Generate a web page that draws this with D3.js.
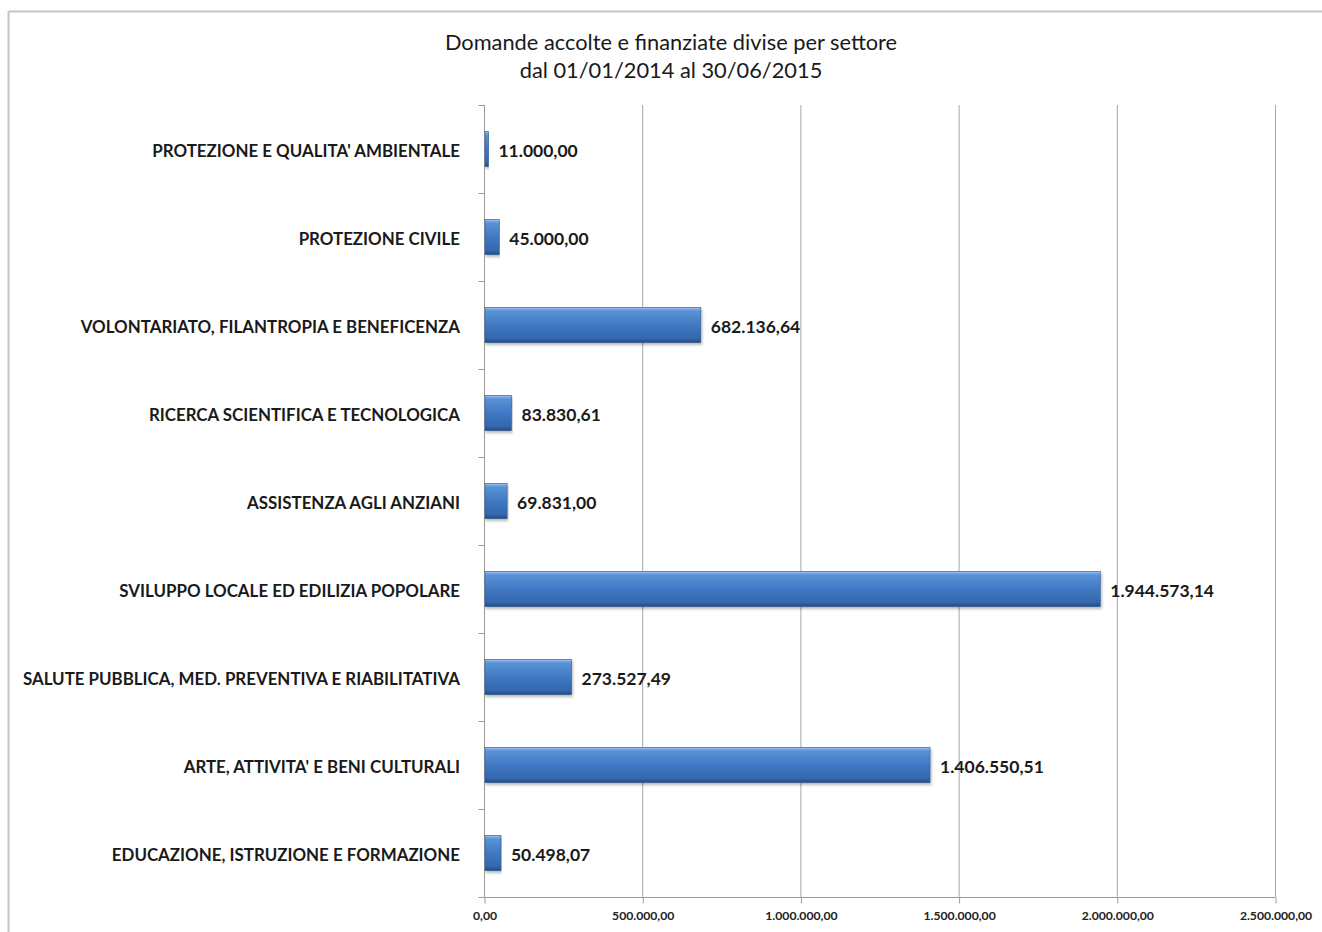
<!DOCTYPE html>
<html>
<head>
<meta charset="utf-8">
<script src="https://cdn.jsdelivr.net/npm/d3@7"></script>
<style>
  html, body { margin: 0; padding: 0; background: #fff; }
  svg { display: block; }
</style>
</head>
<body>
<svg id="chart" width="1322" height="932"></svg>
<script>
const categories = [
  "PROTEZIONE E QUALITA' AMBIENTALE",
  "PROTEZIONE CIVILE",
  "VOLONTARIATO, FILANTROPIA E BENEFICENZA",
  "RICERCA SCIENTIFICA E TECNOLOGICA",
  "ASSISTENZA AGLI ANZIANI",
  "SVILUPPO LOCALE ED EDILIZIA POPOLARE",
  "SALUTE PUBBLICA, MED. PREVENTIVA E RIABILITATIVA",
  "ARTE, ATTIVITA' E BENI CULTURALI",
  "EDUCAZIONE, ISTRUZIONE E FORMAZIONE"
];
const values = [11000.00, 45000.00, 682136.64, 83830.61, 69831.00, 1944573.14, 273527.49, 1406550.51, 50498.07];
const xTicks = [0, 500000, 1000000, 1500000, 2000000, 2500000];
const titleLines = ["Domande accolte e finanziate divise per settore", "dal 01/01/2014 al 30/06/2015"];

const itLocale = d3.formatLocale({decimal: ",", thousands: ".", grouping: [3], currency: ["€", ""]});
const fmt = itLocale.format(",.2f");

const svg = d3.select("#chart");
const W = 1322, H = 932;
const m = {left: 484, top: 105};

const x = d3.scaleLinear().domain([0, 2500000]).range([m.left, m.left + 791]);
const y = d3.scaleBand().domain(categories).range([m.top, m.top + 792]).paddingInner(0.6).paddingOuter(0.3);
const yOuter = d3.scaleBand().domain(categories).range([m.top, m.top + 792]);

// defs
const defs = svg.append("defs");
const grad = defs.append("linearGradient").attr("id", "barGrad").attr("x1", 0).attr("y1", 0).attr("x2", 0).attr("y2", 1);
grad.append("stop").attr("offset", "0%").attr("stop-color", "#9cc3ef");
grad.append("stop").attr("offset", "10%").attr("stop-color", "#5b93d6");
grad.append("stop").attr("offset", "50%").attr("stop-color", "#3f79c3");
grad.append("stop").attr("offset", "88%").attr("stop-color", "#3467ac");
grad.append("stop").attr("offset", "100%").attr("stop-color", "#25497c");
const shadow = defs.append("filter").attr("id", "shadow").attr("x", "-5%").attr("y", "-20%").attr("width", "110%").attr("height", "160%");
shadow.append("feDropShadow").attr("dx", 1).attr("dy", 2).attr("stdDeviation", 1.5).attr("flood-color", "#000").attr("flood-opacity", 0.3);

// frame border
svg.append("line").attr("x1", 9).attr("x2", W).attr("y1", 11.5).attr("y2", 11.5).attr("stroke", "#c4c4c4").attr("stroke-width", 2);
svg.append("line").attr("x1", 8.5).attr("x2", 8.5).attr("y1", 11).attr("y2", H).attr("stroke", "#c4c4c4").attr("stroke-width", 2);

// title
svg.append("g").selectAll("text").data(titleLines).join("text")
  .attr("x", 671).attr("y", (d, i) => 50 + i * 28)
  .attr("text-anchor", "middle")
  .attr("font-family", "Lato, 'Open Sans', sans-serif")
  .attr("font-size", 21.8)
  .attr("fill", "#1a1a1a")
  .text(d => d);

// gridlines
svg.append("g").selectAll("line").data(xTicks.slice(1)).join("line")
  .attr("x1", d => x(d) + 0.5).attr("x2", d => x(d) + 0.5)
  .attr("y1", m.top).attr("y2", m.top + 792)
  .attr("stroke", "#a6a6a6").attr("stroke-width", 1);

// x axis
const xAxis = svg.append("g").attr("transform", `translate(0.5,${m.top + 792 + 0.5})`)
  .call(d3.axisBottom(x).tickValues(xTicks).tickFormat(fmt).tickSize(6).tickPadding(8));
xAxis.select(".domain").attr("stroke", "#9a9a9a").attr("d", `M${x(0)},0H${x(2500000)}`);
xAxis.selectAll(".tick line").attr("stroke", "#9a9a9a");
xAxis.selectAll("text").attr("font-family", "Lato, sans-serif").attr("font-weight", "bold").attr("font-size", 12.2).attr("fill", "#222");

// y axis
const yAxis = svg.append("g").attr("transform", `translate(${m.left + 0.5},0)`);
yAxis.append("line").attr("x1", 0).attr("x2", 0).attr("y1", m.top).attr("y2", m.top + 792).attr("stroke", "#9a9a9a");
const bounds = categories.map(c => yOuter(c)).concat([m.top + 792]);
yAxis.selectAll("line.tk").data(bounds).join("line").attr("class", "tk")
  .attr("x1", -6).attr("x2", 0).attr("y1", d => d + 0.5).attr("y2", d => d + 0.5)
  .attr("stroke", "#9a9a9a");

// category labels
svg.append("g").selectAll("text").data(categories).join("text")
  .attr("x", 460).attr("y", d => y(d) + y.bandwidth() / 2)
  .attr("dy", "0.45em")
  .attr("text-anchor", "end")
  .attr("font-family", "Lato, sans-serif")
  .attr("font-weight", "bold")
  .attr("font-size", 16.9)
  .attr("fill", "#1a1a1a")
  .text(d => d);

// bars
const data = categories.map((c, i) => ({c, v: values[i]}));
svg.append("g").selectAll("rect").data(data).join("rect")
  .attr("x", x(0) + 1).attr("y", d => y(d.c))
  .attr("width", d => Math.max(2, x(d.v) - x(0)))
  .attr("height", y.bandwidth())
  .attr("fill", "url(#barGrad)")
  .attr("stroke", "#2e5a92").attr("stroke-width", 0.6)
  .attr("filter", "url(#shadow)");

// value labels
svg.append("g").selectAll("text").data(data).join("text")
  .attr("x", d => x(d.v) + 11).attr("y", d => y(d.c) + y.bandwidth() / 2)
  .attr("dy", "0.45em")
  .attr("font-family", "Lato, sans-serif")
  .attr("font-weight", "bold")
  .attr("font-size", 17.5)
  .attr("fill", "#1a1a1a")
  .text(d => fmt(d.v));
</script>
</body>
</html>
